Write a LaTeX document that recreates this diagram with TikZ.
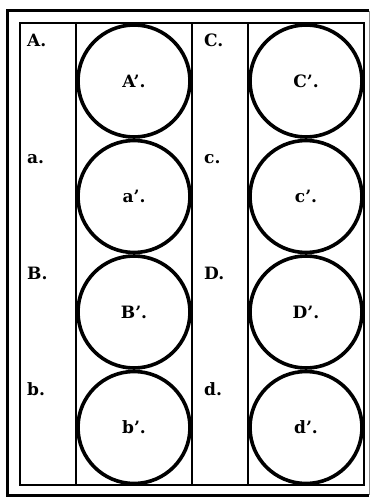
\documentclass[tikz,border=0pt]{standalone}
\usepackage{fontspec}
\setmainfont{DejaVu Serif}
\usepackage{tikz}

\begin{document}
\begin{tikzpicture}[x=1pt,y=-1pt,
  lbl/.style={anchor=base west,inner sep=0pt,font=\fontsize{17}{20}\selectfont\bfseries},
  ring/.style={circle,draw,line width=3.6pt,minimum size=112pt,inner sep=0pt,
    font=\fontsize{17}{20}\selectfont\bfseries}]
\useasboundingbox (0,0) rectangle (371,497);
% frames
\draw[line width=3pt] (369,11)--(7,11)--(7,495)--(369,495);
\draw[line width=0.6pt,black!45] (369.5,11)--(369.5,495);
\draw[line width=2pt] (20,23) rectangle (364,485);
% column rules
\draw[line width=1.6pt] (76,23)--(76,485);
\draw[line width=1.6pt] (192,23)--(192,485);
\draw[line width=1.6pt] (248,23)--(248,485);
% left labels
\node[lbl] (A) at (27,47) {A.};
\node[lbl] (a) at (27,163) {a.};
\node[lbl] (B) at (27,279) {B.};
\node[lbl] (b) at (27,395) {b.};
\node[lbl] (C) at (204,47) {C.};
\node[lbl] (c) at (204,163) {c.};
\node[lbl] (D) at (204,279) {D.};
\node[lbl] (d) at (204,395) {d.};
% circles
\node[ring] (Ap) at (134,81) {A’.};
\node[ring] (ap) at (134,196.5) {a’.};
\node[ring] (Bp) at (134,312) {B’.};
\node[ring] (bp) at (134,427.5) {b’.};
\node[ring] (Cp) at (306,81) {C’.};
\node[ring] (cp) at (306,196.5) {c’.};
\node[ring] (Dp) at (306,312) {D’.};
\node[ring] (dp) at (306,427.5) {d’.};
\end{tikzpicture}
\end{document}
